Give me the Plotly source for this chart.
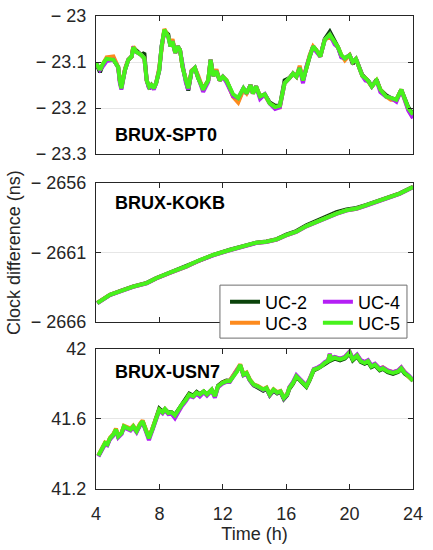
import plotly.graph_objects as go
from plotly.subplots import make_subplots

series_names = ["UC-2", "UC-3", "UC-4", "UC-5"]
series_colors = ["#0b430b", "#fd8a1d", "#b41ff5", "#47f21c"]
legend_ids = ["legend", "legend2", "legend3", "legend4"]

# BRUX-SPT0
t_spt0 = [4.0, 4.25, 4.46, 4.67, 5.1, 5.4, 5.5, 5.6, 5.83, 6.04,
          6.25, 6.35, 6.55, 6.87, 7.05, 7.2, 7.36, 7.5, 7.65, 7.8,
          7.99, 8.14, 8.31, 8.56, 8.7, 8.83, 9.0, 9.15, 9.3, 9.46,
          9.67, 9.82, 10.03, 10.24, 10.45, 10.76, 11.08, 11.23, 11.4, 11.6,
          11.8, 12.0, 12.23, 12.44, 12.65, 12.97, 13.3, 13.5, 13.75, 13.9,
          14.1, 14.35, 14.65, 14.96, 15.3, 15.6, 15.9, 16.2, 16.43, 16.64,
          16.85, 17.06, 17.27, 17.48, 17.7, 17.9, 18.15, 18.43, 18.75, 19.06,
          19.27, 19.48, 19.7, 20.0, 20.2, 20.4, 20.6, 20.8, 21.0, 21.2,
          21.4, 21.7, 21.94, 22.3, 22.6, 22.95, 23.26, 23.46, 23.7, 24.0]
spt0_uc2 = [-23.102, -23.122, -23.103, -23.093, -23.095, -23.111, -23.140, -23.155, -23.117, -23.095,
            -23.088, -23.068, -23.075, -23.085, -23.080, -23.140, -23.158, -23.150, -23.157, -23.145,
            -23.118, -23.066, -23.032, -23.040, -23.066, -23.055, -23.080, -23.066, -23.074, -23.110,
            -23.140, -23.162, -23.120, -23.113, -23.135, -23.158, -23.140, -23.095, -23.130, -23.120,
            -23.140, -23.132, -23.140, -23.157, -23.173, -23.185, -23.157, -23.168, -23.150, -23.168,
            -23.153, -23.175, -23.170, -23.188, -23.195, -23.195, -23.140, -23.135, -23.125, -23.132,
            -23.113, -23.140, -23.112, -23.088, -23.066, -23.074, -23.088, -23.050, -23.034, -23.052,
            -23.068, -23.088, -23.092, -23.085, -23.104, -23.093, -23.110, -23.128, -23.135, -23.142,
            -23.153, -23.138, -23.160, -23.172, -23.178, -23.182, -23.160, -23.180, -23.198, -23.214]
spt0_uc3 = [-23.102, -23.117, -23.103, -23.090, -23.088, -23.111, -23.140, -23.157, -23.114, -23.095,
            -23.088, -23.066, -23.078, -23.085, -23.092, -23.140, -23.154, -23.150, -23.157, -23.145,
            -23.112, -23.066, -23.028, -23.045, -23.060, -23.050, -23.080, -23.066, -23.074, -23.110,
            -23.140, -23.157, -23.118, -23.113, -23.130, -23.160, -23.140, -23.095, -23.130, -23.116,
            -23.140, -23.132, -23.140, -23.157, -23.176, -23.188, -23.160, -23.168, -23.150, -23.168,
            -23.153, -23.175, -23.172, -23.190, -23.198, -23.198, -23.146, -23.135, -23.125, -23.132,
            -23.108, -23.140, -23.110, -23.085, -23.066, -23.074, -23.088, -23.052, -23.044, -23.058,
            -23.068, -23.085, -23.096, -23.085, -23.100, -23.093, -23.110, -23.130, -23.135, -23.145,
            -23.153, -23.140, -23.160, -23.175, -23.182, -23.182, -23.160, -23.180, -23.203, -23.220]
spt0_uc4 = [-23.102, -23.117, -23.108, -23.098, -23.095, -23.111, -23.145, -23.160, -23.117, -23.095,
            -23.088, -23.072, -23.078, -23.085, -23.092, -23.140, -23.158, -23.150, -23.160, -23.145,
            -23.118, -23.066, -23.034, -23.045, -23.066, -23.055, -23.080, -23.066, -23.074, -23.110,
            -23.145, -23.160, -23.120, -23.113, -23.135, -23.165, -23.143, -23.095, -23.130, -23.120,
            -23.140, -23.132, -23.144, -23.157, -23.174, -23.178, -23.157, -23.168, -23.150, -23.168,
            -23.153, -23.180, -23.170, -23.190, -23.202, -23.198, -23.146, -23.135, -23.125, -23.132,
            -23.113, -23.146, -23.110, -23.088, -23.066, -23.078, -23.088, -23.052, -23.040, -23.062,
            -23.068, -23.090, -23.092, -23.085, -23.100, -23.093, -23.110, -23.130, -23.140, -23.142,
            -23.153, -23.140, -23.165, -23.175, -23.178, -23.186, -23.160, -23.180, -23.205, -23.222]
spt0_uc5 = [-23.102, -23.117, -23.103, -23.093, -23.095, -23.111, -23.140, -23.157, -23.117, -23.095,
            -23.088, -23.068, -23.078, -23.085, -23.092, -23.140, -23.154, -23.150, -23.157, -23.145,
            -23.118, -23.066, -23.030, -23.045, -23.066, -23.055, -23.080, -23.066, -23.074, -23.110,
            -23.140, -23.157, -23.120, -23.113, -23.135, -23.160, -23.140, -23.095, -23.130, -23.120,
            -23.140, -23.132, -23.140, -23.157, -23.170, -23.178, -23.157, -23.168, -23.150, -23.168,
            -23.153, -23.175, -23.170, -23.190, -23.198, -23.195, -23.146, -23.135, -23.125, -23.132,
            -23.113, -23.140, -23.110, -23.088, -23.066, -23.074, -23.088, -23.052, -23.040, -23.058,
            -23.068, -23.085, -23.092, -23.085, -23.100, -23.093, -23.110, -23.130, -23.135, -23.142,
            -23.153, -23.140, -23.160, -23.175, -23.178, -23.182, -23.160, -23.180, -23.200, -23.214]

# BRUX-KOKB
t_kokb = [4.08, 4.88, 5.5, 6.35, 7.2, 7.8, 8.66, 9.7, 10.55, 11.4,
          12.44, 13.5, 14.1, 14.75, 15.4, 16.0, 16.64, 17.27, 17.9, 18.54,
          19.17, 19.8, 20.43, 21.06, 21.9, 22.53, 23.16, 24.0]
kokb_uc2 = [-2664.62, -2664.04, -2663.78, -2663.44, -2663.18, -2662.84, -2662.44, -2661.98, -2661.53, -2661.17,
            -2660.80, -2660.45, -2660.29, -2660.21, -2660.04, -2659.72, -2659.46, -2659.04, -2658.72, -2658.36,
            -2658.10, -2657.90, -2657.80, -2657.58, -2657.22, -2656.99, -2656.75, -2656.28]
kokb_uc3 = [-2664.63, -2664.05, -2663.80, -2663.46, -2663.21, -2662.86, -2662.46, -2662.01, -2661.56, -2661.19,
            -2660.83, -2660.47, -2660.31, -2660.23, -2660.07, -2659.76, -2659.51, -2659.11, -2658.81, -2658.49,
            -2658.21, -2657.97, -2657.85, -2657.61, -2657.25, -2657.01, -2656.77, -2656.30]
kokb_uc4 = [-2664.66, -2664.06, -2663.82, -2663.47, -2663.22, -2662.87, -2662.47, -2662.02, -2661.56, -2661.20,
            -2660.84, -2660.48, -2660.32, -2660.24, -2660.08, -2659.77, -2659.52, -2659.12, -2658.82, -2658.50,
            -2658.22, -2657.98, -2657.86, -2657.62, -2657.26, -2657.02, -2656.78, -2656.31]
kokb_uc5 = [-2664.64, -2664.04, -2663.80, -2663.45, -2663.20, -2662.85, -2662.45, -2662.00, -2661.54, -2661.18,
            -2660.82, -2660.46, -2660.30, -2660.22, -2660.06, -2659.75, -2659.50, -2659.10, -2658.80, -2658.48,
            -2658.20, -2657.96, -2657.84, -2657.60, -2657.24, -2657.00, -2656.76, -2656.29]

# BRUX-USN7
t_usn7 = [4.15, 4.36, 4.57, 4.72, 4.88, 5.09, 5.26, 5.40, 5.62, 5.76,
          5.97, 6.18, 6.35, 6.56, 6.77, 6.94, 7.13, 7.34, 7.55, 7.78,
          7.99, 8.20, 8.35, 8.56, 8.77, 8.98, 9.19, 9.40, 9.67, 9.88,
          10.13, 10.35, 10.55, 10.80, 11.00, 11.30, 11.50, 11.70, 11.98, 12.23,
          12.44, 12.65, 12.90, 13.10, 13.30, 13.50, 13.70, 13.95, 14.20, 14.55,
          14.76, 14.96, 15.20, 15.43, 15.64, 15.85, 16.06, 16.20, 16.43, 16.64,
          16.85, 17.06, 17.27, 17.48, 17.74, 18.00, 18.20, 18.43, 18.64, 18.75,
          18.85, 19.06, 19.40, 19.70, 19.90, 20.00, 20.20, 20.47, 20.70, 20.95,
          21.16, 21.37, 21.60, 21.90, 22.10, 22.40, 22.74, 23.06, 23.26, 23.47,
          23.74, 24.00]
usn7_uc2 = [41.390, 41.422, 41.460, 41.455, 41.488, 41.510, 41.538, 41.500, 41.520, 41.555,
            41.550, 41.540, 41.555, 41.530, 41.565, 41.587, 41.540, 41.494, 41.540, 41.610,
            41.660, 41.642, 41.657, 41.638, 41.638, 41.624, 41.653, 41.684, 41.714, 41.745,
            41.734, 41.755, 41.742, 41.758, 41.740, 41.768, 41.730, 41.790, 41.810, 41.820,
            41.818, 41.846, 41.872, 41.905, 41.853, 41.860, 41.822, 41.792, 41.780, 41.762,
            41.772, 41.735, 41.762, 41.746, 41.755, 41.714, 41.736, 41.772, 41.802, 41.840,
            41.822, 41.802, 41.784, 41.822, 41.878, 41.888, 41.898, 41.915, 41.926, 41.962,
            41.936, 41.945, 41.935, 41.945, 41.962, 41.975, 41.935, 41.958, 41.926, 41.916,
            41.926, 41.896, 41.906, 41.878, 41.886, 41.868, 41.858, 41.868, 41.886, 41.860,
            41.842, 41.818]
usn7_uc3 = [41.392, 41.428, 41.466, 41.458, 41.492, 41.514, 41.545, 41.504, 41.524, 41.562,
            41.556, 41.545, 41.562, 41.534, 41.572, 41.592, 41.545, 41.492, 41.544, 41.608,
            41.652, 41.636, 41.655, 41.630, 41.632, 41.612, 41.648, 41.676, 41.706, 41.738,
            41.728, 41.748, 41.738, 41.756, 41.738, 41.766, 41.728, 41.785, 41.806, 41.816,
            41.818, 41.846, 41.876, 41.912, 41.856, 41.866, 41.828, 41.798, 41.790, 41.770,
            41.780, 41.744, 41.770, 41.754, 41.760, 41.724, 41.744, 41.780, 41.808, 41.846,
            41.828, 41.810, 41.790, 41.828, 41.884, 41.892, 41.904, 41.922, 41.934, 41.970,
            41.944, 41.954, 41.944, 41.954, 41.970, 41.984, 41.944, 41.966, 41.934, 41.924,
            41.934, 41.904, 41.914, 41.888, 41.896, 41.878, 41.868, 41.876, 41.894, 41.866,
            41.840, 41.822]
usn7_uc4 = [41.386, 41.420, 41.456, 41.450, 41.484, 41.504, 41.534, 41.494, 41.514, 41.552,
            41.544, 41.534, 41.552, 41.524, 41.562, 41.582, 41.534, 41.480, 41.534, 41.600,
            41.648, 41.632, 41.652, 41.628, 41.630, 41.605, 41.645, 41.672, 41.702, 41.732,
            41.724, 41.744, 41.728, 41.752, 41.734, 41.762, 41.722, 41.782, 41.802, 41.812,
            41.812, 41.842, 41.868, 41.906, 41.850, 41.860, 41.822, 41.794, 41.785, 41.766,
            41.776, 41.738, 41.766, 41.750, 41.756, 41.718, 41.740, 41.782, 41.812, 41.850,
            41.830, 41.810, 41.792, 41.830, 41.886, 41.895, 41.905, 41.925, 41.935, 41.972,
            41.945, 41.955, 41.945, 41.955, 41.972, 41.985, 41.945, 41.968, 41.936, 41.926,
            41.936, 41.906, 41.916, 41.888, 41.895, 41.877, 41.868, 41.877, 41.895, 41.868,
            41.848, 41.824]
usn7_uc5 = [41.390, 41.425, 41.463, 41.455, 41.490, 41.510, 41.540, 41.500, 41.520, 41.558,
            41.550, 41.540, 41.558, 41.530, 41.568, 41.587, 41.540, 41.490, 41.540, 41.606,
            41.653, 41.638, 41.657, 41.634, 41.638, 41.620, 41.653, 41.680, 41.710, 41.740,
            41.730, 41.750, 41.740, 41.758, 41.740, 41.768, 41.730, 41.787, 41.806, 41.815,
            41.815, 41.844, 41.872, 41.910, 41.853, 41.863, 41.825, 41.796, 41.787, 41.768,
            41.777, 41.740, 41.768, 41.750, 41.758, 41.720, 41.740, 41.777, 41.806, 41.844,
            41.825, 41.806, 41.787, 41.825, 41.882, 41.890, 41.900, 41.920, 41.930, 41.968,
            41.940, 41.950, 41.940, 41.950, 41.968, 41.980, 41.940, 41.962, 41.930, 41.920,
            41.930, 41.900, 41.910, 41.882, 41.890, 41.872, 41.863, 41.872, 41.890, 41.863,
            41.844, 41.820]

panel_labels = ["BRUX-SPT0", "BRUX-KOKB", "BRUX-USN7"]
x_ticks = [4, 8, 12, 16, 20, 24]
spt0_ticks = [-23.3, -23.2, -23.1, -23.0]
spt0_ticktext = ["\u2212 23.3", "\u2212 23.2", "\u2212 23.1", "\u2212 23"]
kokb_ticks = [-2666, -2661, -2656]
kokb_ticktext = ["\u2212 2666", "\u2212 2661", "\u2212 2656"]
usn7_ticks = [41.2, 41.6, 42.0]
usn7_ticktext = ["41.2", "41.6", "42"]

panels = [
    (t_spt0, [spt0_uc2, spt0_uc3, spt0_uc4, spt0_uc5], spt0_ticks, spt0_ticktext),
    (t_kokb, [kokb_uc2, kokb_uc3, kokb_uc4, kokb_uc5], kokb_ticks, kokb_ticktext),
    (t_usn7, [usn7_uc2, usn7_uc3, usn7_uc4, usn7_uc5], usn7_ticks, usn7_ticktext),
]

FONT = "Liberation Sans, Arial, sans-serif"
INK = "#262626"

fig = make_subplots(rows=3, cols=1, shared_xaxes=True)

for row, (t, ys, tv, tt) in enumerate(panels, start=1):
    for name, color, lg, y in zip(series_names, series_colors, legend_ids, ys):
        fig.add_trace(go.Scatter(
            x=t, y=y, mode="lines", name=name,
            line=dict(color=color, width=4),
            legend=lg, showlegend=(row == 2),
        ), row=row, col=1)
    fig.update_yaxes(
        range=[tv[0], tv[-1]], tickvals=tv, ticktext=tt,
        row=row, col=1,
    )

domains = [[0.708, 1.0], [0.353, 0.647], [0.0, 0.296]]
for i, d in enumerate(domains, start=1):
    fig.layout["yaxis" + ("" if i == 1 else str(i))].domain = d

fig.update_xaxes(
    range=[4, 24], tickvals=x_ticks, ticks="inside", ticklen=5,
    tickcolor=INK, showline=True, linecolor=INK, linewidth=1,
    mirror="ticks", showgrid=False, zeroline=False,
    ticklabelstandoff=8,
    tickfont=dict(size=18, color=INK, family=FONT),
)
fig.update_xaxes(showticklabels=False, row=1, col=1)
fig.update_xaxes(showticklabels=False, row=2, col=1)
fig.update_xaxes(
    title=dict(text="Time (h)", font=dict(size=18, color=INK, family=FONT), standoff=2),
    row=3, col=1,
)
fig.update_yaxes(
    ticks="inside", ticklen=5, tickcolor=INK, showline=True,
    linecolor=INK, linewidth=1, mirror="ticks",
    showgrid=True, gridcolor="#e6e6e6", gridwidth=1, zeroline=False,
    ticklabelstandoff=5,
    tickfont=dict(size=18, color=INK, family=FONT),
)

label_y = [0.748, 0.605, 0.247]
for text, yy in zip(panel_labels, label_y):
    fig.add_annotation(
        text="<b>" + text + "</b>", xref="paper", yref="paper",
        x=0.054, y=yy, xanchor="left", yanchor="middle", showarrow=False,
        font=dict(size=18, color="black", family=FONT),
    )

fig.add_annotation(
    text="Clock difference (ns)", xref="paper", yref="paper",
    x=-0.259, y=0.501, textangle=-90, showarrow=False,
    xanchor="center", yanchor="middle",
    font=dict(size=18, color=INK, family=FONT),
)

# legend frame (white box behind the four legend entries)
fig.add_shape(
    type="rect", xref="paper", yref="paper",
    x0=0.391, x1=0.981, y0=0.319, y1=0.431,
    line=dict(color="#6e6e6e", width=1), fillcolor="white", layer="above",
)

legend_style = dict(
    bgcolor="rgba(0,0,0,0)", borderwidth=0, orientation="v",
    font=dict(size=18, color="black", family=FONT),
    xanchor="left", yanchor="middle", itemwidth=30,
)
fig.update_layout(
    legend=dict(x=0.407, y=0.395, **legend_style),
    legend2=dict(x=0.407, y=0.351, **legend_style),
    legend3=dict(x=0.700, y=0.395, **legend_style),
    legend4=dict(x=0.700, y=0.351, **legend_style),
)

fig.update_layout(
    template="plotly_white",
    width=433, height=550,
    margin=dict(l=96, r=20, t=16, b=61, autoexpand=False),
    paper_bgcolor="white", plot_bgcolor="white",
    font=dict(family=FONT, color=INK),
)

# drop the browser's default body margin so the figure fills the window
fig.write_html(
    "out.html",
    config={"displayModeBar": False},
    post_script="document.body.style.margin = '0';",
)
